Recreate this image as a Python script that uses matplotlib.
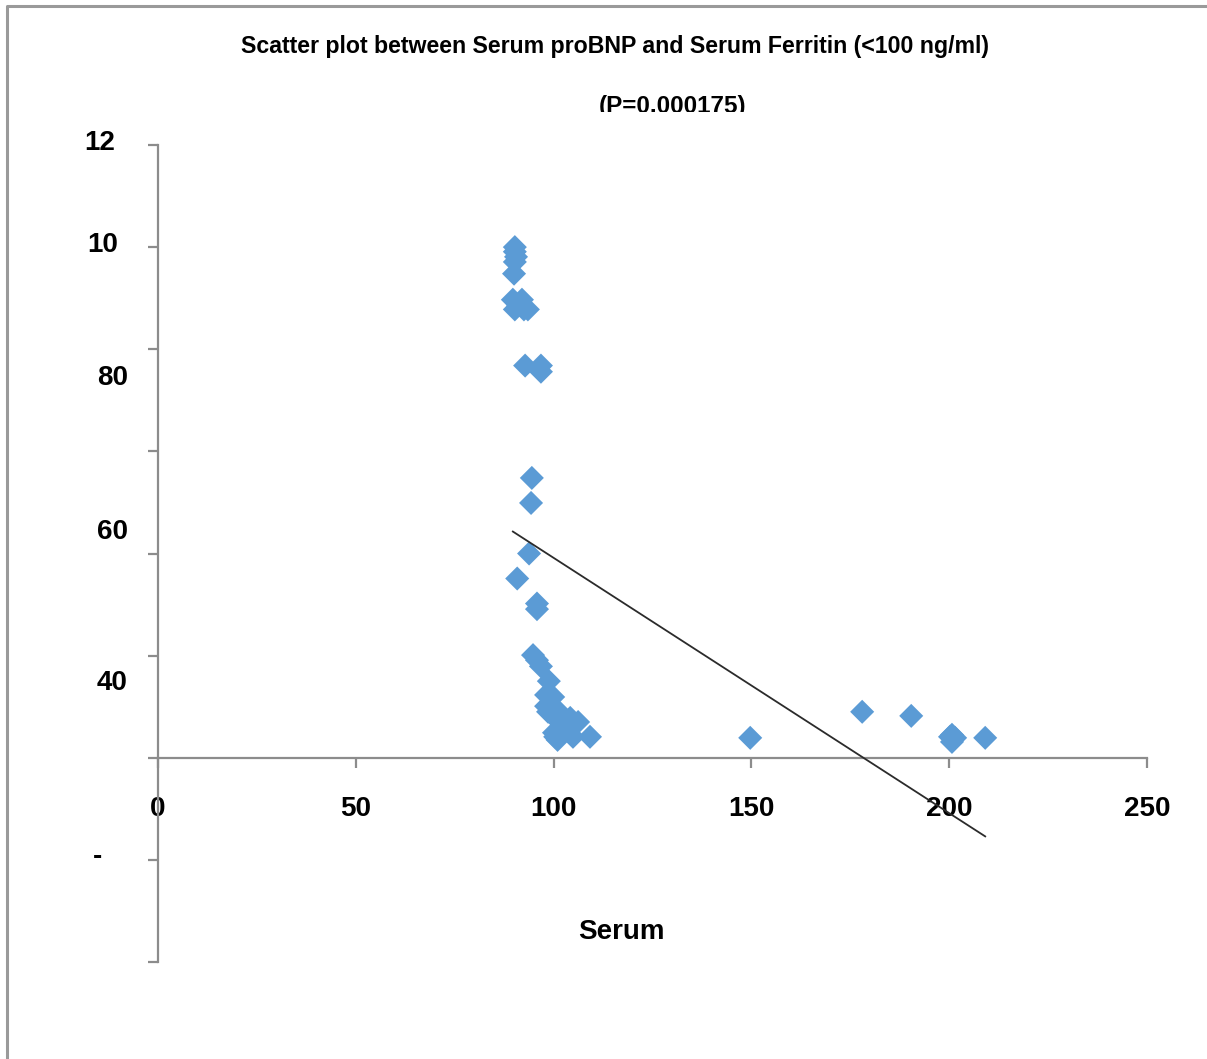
import matplotlib
matplotlib.use("Agg")
import matplotlib.pyplot as plt
from matplotlib.lines import Line2D
from matplotlib.transforms import Bbox, TransformedBbox
import numpy as np

# ── data ─────────────────────────────────────────────────────────────────────
ferritin = [90.2, 90.2, 90.5, 90.2, 90.0,
            89.7, 92.0, 90.2, 92.5, 93.5, 91.0,
            92.8, 96.8, 96.8,
            94.5, 94.3, 93.8, 90.8, 95.8, 95.8,
            94.8, 95.8, 96.8, 98.8, 98.1, 99.9,
            98.1, 99.9, 98.6, 101.6,
            100.4, 102.4, 104.2, 106.2,
            100.1, 104.9, 109.2, 102.9, 100.4, 101.0,
            149.7, 178.0, 190.4, 200.2, 200.7, 200.7, 201.5, 209.1]
probnp = [100.0, 99.1, 98.1, 97.1, 94.8,
          89.7, 89.7, 87.8, 87.8, 87.8, 88.7,
          76.8, 76.8, 75.6,
          54.8, 49.9, 40.0, 35.1, 30.2, 29.1,
          20.1, 19.1, 17.9, 15.0, 12.3, 11.9,
          10.1, 9.8, 9.0, 8.8,
          7.8, 7.4, 7.8, 7.0,
          4.9, 4.1, 4.1, 5.5, 4.1, 3.5,
          3.9, 9.0, 8.2, 4.1, 3.1, 4.5, 3.9, 3.9]

TREND_X = [89.7, 209.1]
TREND_SLOPE = -0.5
TREND_INTERCEPT = 89.15

X_TICKS = [0, 50, 100, 150, 200, 250]
Y_TICKS = [-40, -20, 0, 20, 40, 60, 80, 100, 120]
Y_LABELS = ["12", "10", "80", "60", "40", "-"]
Y_LABEL_POS = [(-10.9, 120.3), (-10.1, 100.4), (-7.6, 74.3),
               (-7.6, 44.3), (-7.6, 14.6), (-14.0, -19.5)]

TITLE = "Scatter plot between Serum proBNP and Serum Ferritin (<100 ng/ml)"
SUBTITLE = "(P=0.000175)"
XLABEL = "Serum"

BLUE = "#5B9BD5"
GREY = "#8C8C8C"
TITLE_FONT = ["Liberation Sans Narrow", "Liberation Sans", "DejaVu Sans"]

plt.rcParams["font.family"] = ["Liberation Sans", "DejaVu Sans"]

fig = plt.figure(figsize=(12.07, 10.59), dpi=100)
ax = fig.add_axes([158 / 1207, 1 - 962 / 1059, 989 / 1207, 817 / 1059])

ax.scatter(ferritin, probnp, marker="D", s=150, color=BLUE,
           edgecolors="none", zorder=2)

tx = np.array(TREND_X)
ax.plot(tx, TREND_SLOPE * tx + TREND_INTERCEPT, color="#2b2b2b",
        lw=1.3, zorder=3)

ax.set_xlim(0, 250)
ax.set_ylim(-40, 120)

for side in ("top", "right"):
    ax.spines[side].set_visible(False)
ax.spines["bottom"].set_position(("data", 0))
for side in ("left", "bottom"):
    ax.spines[side].set_color(GREY)
    ax.spines[side].set_linewidth(1.6)

ax.set_xticks(X_TICKS)
ax.set_yticks(Y_TICKS)
ax.set_yticklabels([""] * len(Y_TICKS))
ax.tick_params(axis="both", direction="out", length=7.5, width=1.6,
               color=GREY)
ax.tick_params(axis="x", pad=20, labelsize=20)
for lab in ax.get_xticklabels():
    lab.set_fontweight("bold")
ax.get_xticklabels()[0].set_bbox(dict(facecolor="white", edgecolor="none", pad=1))

for txt, (px, py) in zip(Y_LABELS, Y_LABEL_POS):
    ax.text(px, py, txt, ha="right", va="center", fontsize=20,
            fontweight="bold", clip_on=False)

fig.text(621 / 1207, 1 - 932 / 1059, XLABEL,
         ha="center", va="center", fontsize=20, fontweight="bold")

fig.text(615 / 1207, 1 - 47 / 1059, TITLE, ha="center", va="center",
         fontsize=16.7, fontweight="bold", family=TITLE_FONT)
sub = fig.text(673 / 1207, 1 - 107 / 1059, SUBTITLE, ha="center", va="center",
               fontsize=17.5, fontweight="bold", family=TITLE_FONT)
sub.set_clip_box(TransformedBbox(Bbox([[0, 1 - 112 / 1059], [1, 1]]),
                                 fig.transFigure))
sub.set_clip_on(True)

# outer frame (left and top edges only visible)
fig.add_artist(Line2D([7 / 1207, 7 / 1207, 1], [0, 1 - 6 / 1059, 1 - 6 / 1059],
                      transform=fig.transFigure, color="#9a9a9a", lw=2.2))

fig.savefig("out.png", dpi=100)
